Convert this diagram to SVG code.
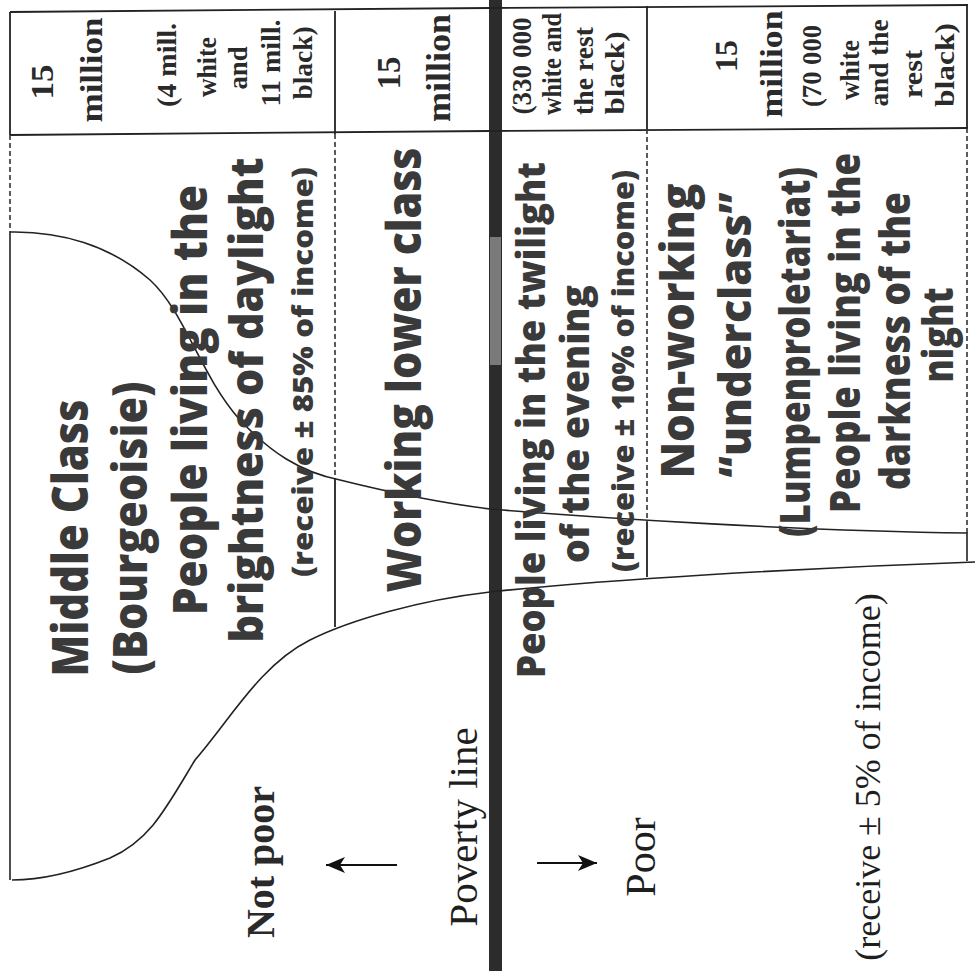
<svg xmlns="http://www.w3.org/2000/svg" width="975" height="971" viewBox="0 0 975 971">
<defs>
<style>
.ln{stroke:#222;stroke-width:1.8;fill:none}
.ds{stroke:#333;stroke-width:1.6;fill:none;stroke-dasharray:5 3}
.cv{stroke:#222;stroke-width:1.6;fill:none}
.sb{font-family:"Liberation Serif","Times New Roman",serif;font-weight:bold;fill:#2a2a2a;text-anchor:middle}
.sr{font-family:"Liberation Serif","Times New Roman",serif;fill:#1e1e1e;text-anchor:middle}
.ss{font-family:"Open Sans","DejaVu Sans",sans-serif;font-weight:800;fill:#3a3a3a;text-anchor:middle}
</style>
<marker id="ah" markerWidth="22" markerHeight="18" refX="19" refY="8" markerUnits="userSpaceOnUse" orient="auto" overflow="visible">
<path d="M0,0 L19,8 L0,16 L5,8 Z" fill="#111"/>
</marker>
</defs>
<rect width="975" height="971" fill="#fff"/>

<g id="poverty-line">
<rect x="489" y="0" width="13" height="971" fill="#2c2c2c"/>
<rect x="490" y="237" width="11" height="128" fill="#7a7a7a"/>
</g>

<g id="table">
<polyline class="ln" points="10,12 490,8 968,5"/>
<polyline class="ln" points="10,135 490,131 968,128"/>
<line class="ln" x1="10" y1="12" x2="10" y2="135"/>
<line class="ln" x1="335" y1="11" x2="335" y2="134"/>
<line class="ln" x1="647" y1="6" x2="647" y2="129"/>
<line class="ln" x1="967" y1="5" x2="967" y2="128"/>
</g>

<g id="dividers">
<line class="ds" x1="10" y1="135" x2="10" y2="232"/>
<line class="ds" x1="335" y1="134" x2="335" y2="478"/>
<line class="ds" x1="647" y1="129" x2="647" y2="522"/>
<line class="ds" x1="967" y1="128" x2="967" y2="533"/>
<line class="ln" x1="335" y1="478" x2="335" y2="627"/>
<line class="ln" x1="647" y1="522" x2="647" y2="577"/>
</g>

<g id="curve">
<path class="cv" d="M10,232 C60,231 110,245 150,280 C185,312 200,375 240,420 C270,452 300,472 340,480 C400,495 450,504 490,509 C600,518 800,531 967,533 L967,561"/>
<path class="cv" d="M975,562 C800,568 600,580 490,592 C420,600 350,620 310,640 C260,665 230,720 195,760 C165,810 150,840 110,858 C70,874 40,880 12,880"/>
<line class="cv" x1="10" y1="232" x2="10" y2="880"/>
</g>

<g id="cell-middle-count">
<text class="sb" font-size="32" transform="translate(53,82) rotate(-90)" textLength="35" lengthAdjust="spacingAndGlyphs">15</text>
<text class="sb" font-size="32" transform="translate(102,70) rotate(-90)" textLength="105" lengthAdjust="spacingAndGlyphs">million</text>
<text class="sb" font-size="27" transform="translate(176,65) rotate(-90)" textLength="84" lengthAdjust="spacingAndGlyphs">(4 mill.</text>
<text class="sb" font-size="27" transform="translate(216,67) rotate(-90)" textLength="60" lengthAdjust="spacingAndGlyphs">white</text>
<text class="sb" font-size="27" transform="translate(247,68) rotate(-90)" textLength="43" lengthAdjust="spacingAndGlyphs">and</text>
<text class="sb" font-size="27" transform="translate(280,63) rotate(-90)" textLength="87" lengthAdjust="spacingAndGlyphs">11 mill.</text>
<text class="sb" font-size="27" transform="translate(312,63) rotate(-90)" textLength="73" lengthAdjust="spacingAndGlyphs">black)</text>
</g>

<g id="cell-working-count">
<text class="sb" font-size="33" transform="translate(400,73) rotate(-90)" textLength="33" lengthAdjust="spacingAndGlyphs">15</text>
<text class="sb" font-size="33" transform="translate(450,68) rotate(-90)" textLength="108" lengthAdjust="spacingAndGlyphs">million</text>
</g>

<g id="cell-twilight-count">
<text class="sb" font-size="27" transform="translate(531,66) rotate(-90)" textLength="97" lengthAdjust="spacingAndGlyphs">(330 000</text>
<text class="sb" font-size="27" transform="translate(561,64) rotate(-90)" textLength="102" lengthAdjust="spacingAndGlyphs">white and</text>
<text class="sb" font-size="27" transform="translate(593,71) rotate(-90)" textLength="88" lengthAdjust="spacingAndGlyphs">the rest</text>
<text class="sb" font-size="27" transform="translate(624,73) rotate(-90)" textLength="83" lengthAdjust="spacingAndGlyphs">black)</text>
</g>

<g id="cell-underclass-count">
<text class="sb" font-size="32" transform="translate(737,56) rotate(-90)" textLength="32" lengthAdjust="spacingAndGlyphs">15</text>
<text class="sb" font-size="32" transform="translate(782,64) rotate(-90)" textLength="107" lengthAdjust="spacingAndGlyphs">million</text>
<text class="sb" font-size="28" transform="translate(821,66) rotate(-90)" textLength="82" lengthAdjust="spacingAndGlyphs">(70 000</text>
<text class="sb" font-size="28" transform="translate(859,70) rotate(-90)" textLength="60" lengthAdjust="spacingAndGlyphs">white</text>
<text class="sb" font-size="28" transform="translate(888,63) rotate(-90)" textLength="87" lengthAdjust="spacingAndGlyphs">and the</text>
<text class="sb" font-size="28" transform="translate(922,74) rotate(-90)" textLength="48" lengthAdjust="spacingAndGlyphs">rest</text>
<text class="sb" font-size="28" transform="translate(954,65) rotate(-90)" textLength="84" lengthAdjust="spacingAndGlyphs">black)</text>
</g>

<g id="middle-class">
<text class="ss" font-size="50" transform="translate(88,538) rotate(-90)" textLength="277" lengthAdjust="spacingAndGlyphs">Middle Class</text>
<text class="ss" font-size="48" transform="translate(147,528) rotate(-90)" textLength="293" lengthAdjust="spacingAndGlyphs">(Bourgeoisie)</text>
<text class="ss" font-size="48" transform="translate(207,400) rotate(-90)" textLength="430" lengthAdjust="spacingAndGlyphs">People living in the</text>
<text class="ss" font-size="46" transform="translate(263,400) rotate(-90)" textLength="485" lengthAdjust="spacingAndGlyphs">brightness of daylight</text>
<text class="ss" font-size="29" transform="translate(313,372) rotate(-90)" textLength="410" lengthAdjust="spacingAndGlyphs">(receive ± 85% of income)</text>
</g>

<g id="working-lower-class">
<text class="ss" font-size="48" transform="translate(421,370) rotate(-90)" textLength="445" lengthAdjust="spacingAndGlyphs">Working lower class</text>
</g>

<g id="twilight">
<text class="ss" font-size="39" transform="translate(545,420) rotate(-90)" textLength="516" lengthAdjust="spacingAndGlyphs">People living in the twilight</text>
<text class="ss" font-size="39" transform="translate(589,424) rotate(-90)" textLength="278" lengthAdjust="spacingAndGlyphs">of the evening</text>
<text class="ss" font-size="30" transform="translate(634,371) rotate(-90)" textLength="402" lengthAdjust="spacingAndGlyphs">(receive ± 10% of income)</text>
</g>

<g id="underclass">
<text class="ss" font-size="46" transform="translate(694,331) rotate(-90)" textLength="295" lengthAdjust="spacingAndGlyphs">Non-working</text>
<text class="ss" font-size="44" transform="translate(751,335) rotate(-90)" textLength="285" lengthAdjust="spacingAndGlyphs">“underclass”</text>
<text class="ss" font-size="42" transform="translate(810,352) rotate(-90)" textLength="370" lengthAdjust="spacingAndGlyphs">(Lumpenproletariat)</text>
<text class="ss" font-size="42" transform="translate(860,333) rotate(-90)" textLength="360" lengthAdjust="spacingAndGlyphs">People living in the</text>
<text class="ss" font-size="42" transform="translate(910,341) rotate(-90)" textLength="298" lengthAdjust="spacingAndGlyphs">darkness of the</text>
<text class="ss" font-size="42" transform="translate(953,335) rotate(-90)" textLength="95" lengthAdjust="spacingAndGlyphs">night</text>
</g>

<g id="labels">
<text class="sb" font-size="40" transform="translate(274,862) rotate(-90)">Not poor</text>
<text class="sr" font-size="41" transform="translate(477,827) rotate(-90)">Poverty line</text>
<text class="sr" font-size="42" transform="translate(655,857) rotate(-90)">Poor</text>
<text class="sr" font-size="36" transform="translate(880,777) rotate(-90)">(receive ± 5% of income)</text>
</g>

<g id="connectors">
<line x1="397" y1="865" x2="326" y2="865" stroke="#111" stroke-width="2" marker-end="url(#ah)"/>
<line x1="537" y1="863" x2="597" y2="863" stroke="#111" stroke-width="2" marker-end="url(#ah)"/>
</g>
</svg>
